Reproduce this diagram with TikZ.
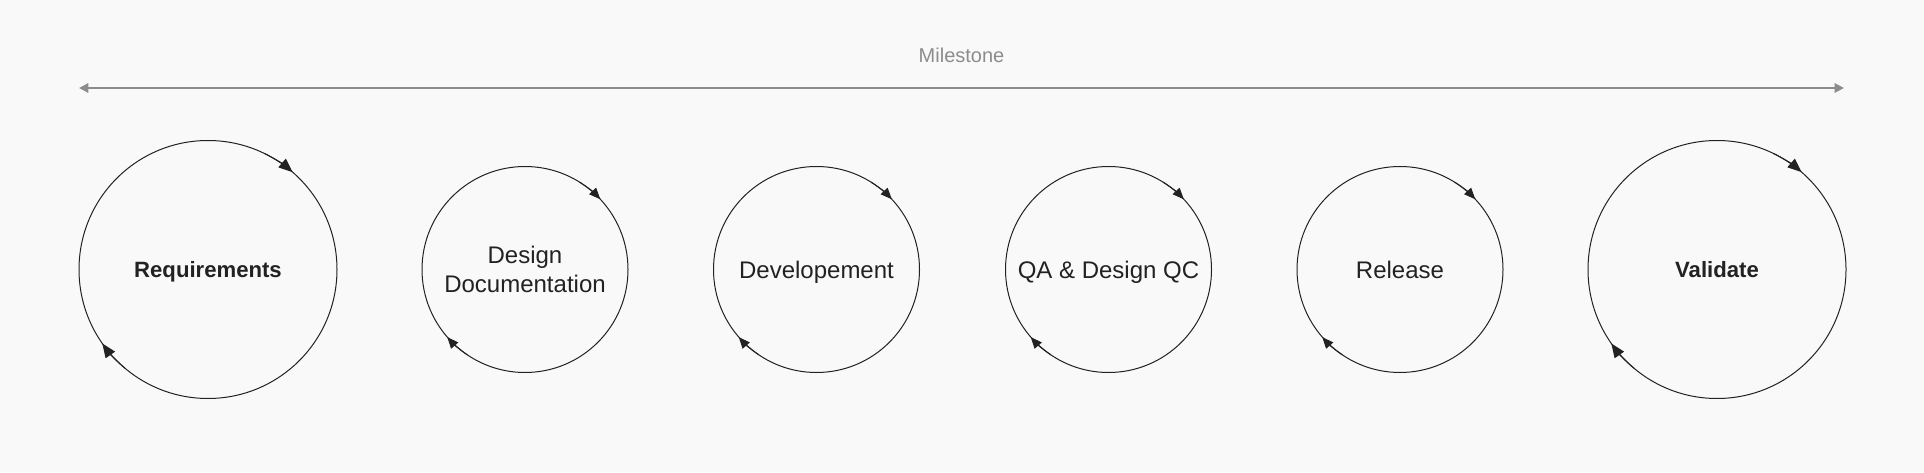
\documentclass[tikz,border=0pt]{standalone}
\usepackage{fontspec}
\setmainfont{Liberation Sans}
\usetikzlibrary{arrows.meta}
\definecolor{bgcol}{RGB}{249,249,249}
\definecolor{inkcol}{RGB}{34,34,34}
\definecolor{rulecol}{RGB}{140,140,140}
\tikzset{
  stage/.style={circle, draw=inkcol, line width=0.75pt, inner sep=0pt, outer sep=0pt, text=inkcol, text depth=0pt, align=center, font=\fontsize{18}{21.5}\selectfont},
  keystage/.style={stage, font=\fontsize{16.6}{20}\selectfont\bfseries},
  bigtip/.style={draw=inkcol, line width=0.75pt, -{Triangle[length=10.5pt,width=8.5pt]}},
  smalltip/.style={draw=inkcol, line width=0.75pt, -{Triangle[length=8.5pt,width=7pt]}},
}
\begin{document}
\begin{tikzpicture}[x=0.75pt,y=0.75pt]
    \tikzstyle{every node}+=[inner sep=0pt]
    \fill [bgcol] (0,0) rectangle (1924,472);
    % milestone rule
    \node [text=rulecol, font=\fontsize{15}{18}\selectfont] (milestone) at (961.5,417) {Milestone};
    \coordinate (mstart) at (79,384);
    \coordinate (mend) at (1844,384);
    \draw [rulecol, line width=1.5pt, {Triangle[length=7pt,width=7pt]}-{Triangle[length=7pt,width=7pt]}] (mstart) -- (mend);
    % stages
    \node [keystage, minimum size=193.5pt] (req) at (208,202.5) {Requirements};
    \node [stage, minimum size=154.5pt] (design) at (525,202.5) {Design\\Documentation};
    \node [stage, minimum size=154.5pt] (dev) at (816.5,202.5) {Developement};
    \node [stage, minimum size=154.5pt] (qa) at (1108.5,202.5) {QA \& Design QC};
    \node [stage, minimum size=154.5pt] (release) at (1400,202.5) {Release};
    \node [keystage, minimum size=193.5pt] (validate) at (1717,202.5) {Validate};
    % cycle arrows
    \draw [bigtip] (req.64) arc (64:49:129);
    \draw [bigtip] (req.230) arc (230:215:129);
    \draw [smalltip] (design.58) arc (58:43:103);
    \draw [smalltip] (design.236) arc (236:221:103);
    \draw [smalltip] (dev.58) arc (58:43:103);
    \draw [smalltip] (dev.236) arc (236:221:103);
    \draw [smalltip] (qa.58) arc (58:43:103);
    \draw [smalltip] (qa.236) arc (236:221:103);
    \draw [smalltip] (release.58) arc (58:43:103);
    \draw [smalltip] (release.236) arc (236:221:103);
    \draw [bigtip] (validate.64) arc (64:49:129);
    \draw [bigtip] (validate.230) arc (230:215:129);
\end{tikzpicture}
\end{document}
